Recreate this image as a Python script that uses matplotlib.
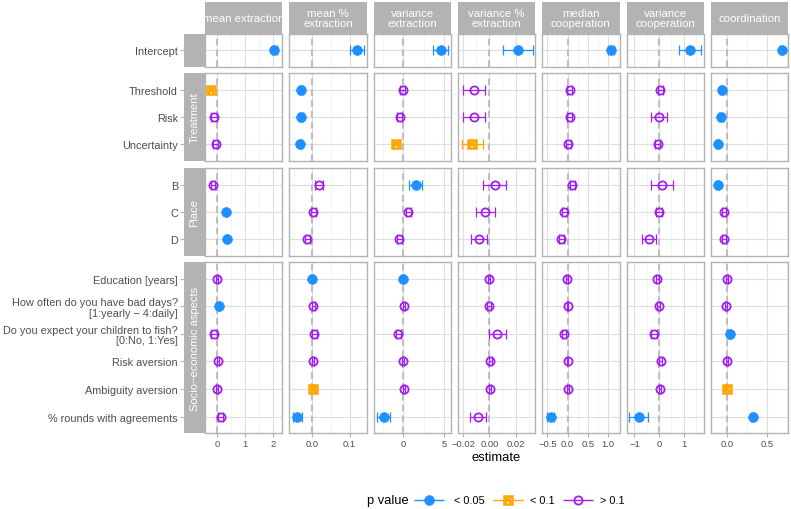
import matplotlib
matplotlib.use("Agg")
import matplotlib.pyplot as plt
import numpy as np

plt.rcParams['font.family'] = ['Liberation Sans', 'DejaVu Sans']

# ---------------- data ----------------
terms = ["Intercept", "Threshold", "Risk", "Uncertainty", "B", "C", "D",
         "Education [years]",
         "How often do you have bad days?\n[1:yearly \u2212 4:daily]",
         "Do you expect your children to fish?\n[0:No, 1:Yes]",
         "Risk aversion", "Ambiguity aversion", "% rounds with agreements"]
term_group = [0, 1, 1, 1, 2, 2, 2, 3, 3, 3, 3, 3, 3]
group_names = ["", "Treatment", "Place", "Socio\u2212economic aspects"]

outcomes = ["mean extraction", "mean %\nextraction", "variance\nextraction",
            "variance %\nextraction", "median\ncooperation",
            "variance\ncooperation", "coordination"]

est_mean_extraction = [2.04, -0.21, -0.11, -0.04, -0.14, 0.32, 0.36, 0.0, 0.07, -0.11, 0.04, 0.0, 0.13]
hw_mean_extraction = [0.10, 0.07, 0.09, 0.09, 0.07, 0.04, 0.04, 0.03, 0.03, 0.09, 0.03, 0.03, 0.08]
p_mean_extraction = [0, 1, 2, 2, 2, 0, 0, 2, 0, 2, 2, 2, 2]

est_mean_pct_extraction = [0.119, -0.030, -0.030, -0.032, 0.019, 0.003, -0.014, -0.001, 0.003, 0.005, 0.002, 0.003, -0.040]
hw_mean_pct_extraction = [0.019, 0.005, 0.005, 0.005, 0.011, 0.007, 0.007, 0.003, 0.003, 0.007, 0.003, 0.003, 0.011]
p_mean_pct_extraction = [0, 0, 0, 0, 2, 2, 2, 0, 2, 2, 2, 1, 0]

est_var_extraction = [4.6, -0.1, -0.45, -0.95, 1.5, 0.6, -0.5, -0.1, 0.1, -0.6, 0.0, 0.1, -2.4]
hw_var_extraction = [0.9, 0.35, 0.3, 0.35, 0.8, 0.3, 0.3, 0.12, 0.12, 0.3, 0.12, 0.12, 0.8]
p_var_extraction = [0, 2, 2, 1, 0, 2, 2, 0, 2, 2, 2, 2, 0]

est_var_pct_extraction = [0.022, -0.0115, -0.0115, -0.013, 0.004, -0.003, -0.0077, 0.0, 0.0, 0.006, 0.0007, 0.0007, -0.0085]
hw_var_pct_extraction = [0.0115, 0.0085, 0.0085, 0.008, 0.0085, 0.007, 0.006, 0.0008, 0.0015, 0.0065, 0.0012, 0.0008, 0.006]
p_var_pct_extraction = [0, 2, 2, 1, 2, 2, 2, 2, 2, 2, 2, 2, 2]

est_median_coop = [1.08, 0.05, 0.05, 0.02, 0.12, -0.08, -0.16, -0.01, 0.0, -0.08, 0.0, 0.01, -0.42]
hw_median_coop = [0.08, 0.06, 0.06, 0.06, 0.06, 0.06, 0.06, 0.02, 0.02, 0.05, 0.02, 0.02, 0.09]
p_median_coop = [0, 2, 2, 2, 2, 2, 2, 2, 2, 2, 2, 2, 0]

est_var_coop = [1.25, 0.06, 0.0, -0.05, 0.11, -0.01, -0.42, -0.07, -0.01, -0.2, 0.07, 0.03, -0.82]
hw_var_coop = [0.45, 0.12, 0.33, 0.10, 0.44, 0.12, 0.28, 0.06, 0.06, 0.12, 0.06, 0.04, 0.39]
p_var_coop = [0, 2, 2, 2, 2, 2, 2, 2, 2, 2, 2, 2, 0]

est_coordination = [0.69, -0.07, -0.08, -0.12, -0.12, -0.04, -0.04, -0.01, -0.02, 0.03, -0.01, 0.0, 0.32]
hw_coordination = [0.02, 0.02, 0.02, 0.02, 0.02, 0.025, 0.025, 0.012, 0.012, 0.02, 0.012, 0.012, 0.02]
p_coordination = [0, 0, 0, 0, 0, 2, 2, 2, 2, 0, 2, 1, 0]

estimates = [est_mean_extraction, est_mean_pct_extraction, est_var_extraction,
             est_var_pct_extraction, est_median_coop, est_var_coop, est_coordination]
halfwidths = [hw_mean_extraction, hw_mean_pct_extraction, hw_var_extraction,
              hw_var_pct_extraction, hw_median_coop, hw_var_coop, hw_coordination]
pcats = [p_mean_extraction, p_mean_pct_extraction, p_var_extraction,
         p_var_pct_extraction, p_median_coop, p_var_coop, p_coordination]

x_limits = [(-0.43, 2.32), (-0.062, 0.146), (-3.66, 5.85), (-0.024, 0.035),
            (-0.63, 1.29), (-1.32, 1.82), (-0.21, 0.77)]
x_ticks = [[0, 1, 2], [0.0, 0.1], [0, 5], [-0.02, 0.0, 0.02],
           [-0.5, 0.0, 0.5, 1.0], [-1, 0, 1], [0.0, 0.5]]
x_minor = [[0.5, 1.5], [-0.05, 0.05], [-2.5, 2.5], [-0.01, 0.01, 0.03],
           [-0.25, 0.25, 0.75, 1.25], [-0.5, 0.5, 1.5], [0.25, 0.75]]
x_decimals = [0, 1, 0, 2, 1, 0, 1]

p_labels = ["< 0.05", "< 0.1", "> 0.1"]

# ---------------- style ----------------
BLUE = "#1E90FF"
ORANGE = "#FFA500"
PURPLE = "#A020F0"
cat_colors = [BLUE, ORANGE, PURPLE]
GRID = "#DEDEDE"
GRID_MINOR = "#EAEAEA"
BORDER = "#B3B3B3"
TEXT = "#4D4D4D"

W, H = 791, 510
fig = plt.figure(figsize=(W / 100, H / 100), dpi=100)
fig.patch.set_facecolor("white")


def add_ax(x0, y0, w, h):
    return fig.add_axes([x0 / W, 1 - (y0 + h) / H, w / W, h / H])


def draw_marker(ax, x, y, cat):
    c = cat_colors[cat]
    if cat == 0:
        ax.plot([x], [y], marker='o', ms=7.0, mfc=c, mec=c, mew=0.5,
                ls='none', zorder=5)
    elif cat == 1:
        ax.plot([x], [y], marker='s', ms=5.6, mfc='none', mec=c, mew=1.8,
                ls='none', zorder=5)
        ax.plot([x], [y], marker='x', ms=5.0, mfc='none', mec=c, mew=1.5,
                ls='none', zorder=5)
    else:
        ax.plot([x], [y], marker='o', ms=5.9, mfc='none', mec=c, mew=1.3,
                ls='none', zorder=5)


def fmt(v, d):
    s = f"{v:.{d}f}"
    return s.replace("-", "\u2212")


col_x0, col_step, col_w = 205.0, 84.3, 77.3
row_tops = [34.8, 74.2, 169.1, 263.3]
row_hs = [32.9, 87.7, 87.7, 170.8]
strip_top, strip_h = 3.0, 31.8
rstrip_x0, rstrip_w = 184.0, 21.0

n_groups = len(group_names)

for g in range(n_groups):
    idx = [i for i, tg in enumerate(term_group) if tg == g]
    n = len(idx)
    ypos = list(range(1, n + 1))
    # row strip with y labels
    sax = add_ax(rstrip_x0, row_tops[g], rstrip_w, row_hs[g])
    sax.set_facecolor(BORDER)
    for sp in sax.spines.values():
        sp.set_visible(False)
    sax.set_xlim(0, 1)
    sax.set_ylim(n + 0.6, 0.4)
    sax.set_xticks([])
    sax.set_yticks(ypos)
    sax.set_yticklabels([terms[i] for i in idx], fontsize=7.8, color=TEXT,
                        linespacing=1.05)
    sax.tick_params(axis='y', length=2.6, color=BORDER, width=0.8, pad=1.8)
    sax.text(0.5, (n + 1) / 2, group_names[g], rotation=90, color='white',
             fontsize=8.0, ha='center', va='center', transform=sax.transData)

    for c in range(len(outcomes)):
        ax = add_ax(col_x0 + c * col_step, row_tops[g], col_w, row_hs[g])
        ax.set_facecolor('white')
        ax.set_xlim(*x_limits[c])
        ax.set_ylim(n + 0.6, 0.4)
        ax.set_xticks(x_ticks[c])
        ax.set_xticks(x_minor[c], minor=True)
        ax.set_yticks(ypos)
        ax.grid(which='major', axis='both', color=GRID, lw=0.8, zorder=0)
        ax.grid(which='minor', axis='x', color=GRID_MINOR, lw=0.4, zorder=0)
        ax.set_axisbelow(True)
        ax.axvline(0, color="#BEBEBE", lw=1.5, ls=(0, (3.2, 2.0)), zorder=1)
        for sp in ax.spines.values():
            sp.set_color(BORDER)
            sp.set_linewidth(1.0)
        ax.tick_params(axis='y', left=False, labelleft=False)
        ax.tick_params(axis='x', which='minor', bottom=False)
        if g == n_groups - 1:
            ax.set_xticklabels([fmt(v, x_decimals[c]) for v in x_ticks[c]])
            ax.tick_params(axis='x', which='major', length=2.6, color=BORDER,
                           width=0.8, labelsize=6.8, labelcolor=TEXT, pad=1.5)
        else:
            ax.tick_params(axis='x', which='major', bottom=False, labelbottom=False)
        for k, i in enumerate(idx):
            e = estimates[c][i]
            hw = halfwidths[c][i]
            cat = pcats[c][i]
            col = cat_colors[cat]
            ax.errorbar([e], [ypos[k]], xerr=[hw], fmt='none', ecolor=col,
                        elinewidth=0.9, capsize=3.4, capthick=0.9, zorder=4)
            draw_marker(ax, e, ypos[k], cat)

# column strips
for c, name in enumerate(outcomes):
    hax = add_ax(col_x0 + c * col_step, strip_top, col_w, strip_h)
    hax.set_facecolor(BORDER)
    for sp in hax.spines.values():
        sp.set_visible(False)
    hax.set_xticks([])
    hax.set_yticks([])
    t = hax.text(0.5, 0.5, name, color='white', fontsize=8.2, ha='center',
                 va='center', linespacing=1.0, transform=hax.transAxes)
    t.set_clip_on(True)

# x axis title
fig.text(496.5 / W, 1 - 458 / H, "estimate", ha='center', va='center',
         fontsize=9.4, color='black')

# legend
lax = fig.add_axes([0, 0, 1, 1], facecolor='none')
lax.set_xlim(0, W)
lax.set_ylim(H, 0)
lax.axis('off')
ly = 501
lax.text(367, ly, "p value", fontsize=9.3, ha='left', va='center', color='black')
key_centers = [429, 507.5, 577.5]
label_x = [454, 530, 600]
for cat in range(3):
    kc = key_centers[cat]
    lax.plot([kc - 15, kc + 15], [ly, ly], color=cat_colors[cat], lw=1.0,
             solid_capstyle='butt')
    draw_marker(lax, kc, ly, cat)
    lax.text(label_x[cat], ly, p_labels[cat], fontsize=7.9, ha='left',
             va='center', color='black')

fig.savefig("out.png", dpi=100)
